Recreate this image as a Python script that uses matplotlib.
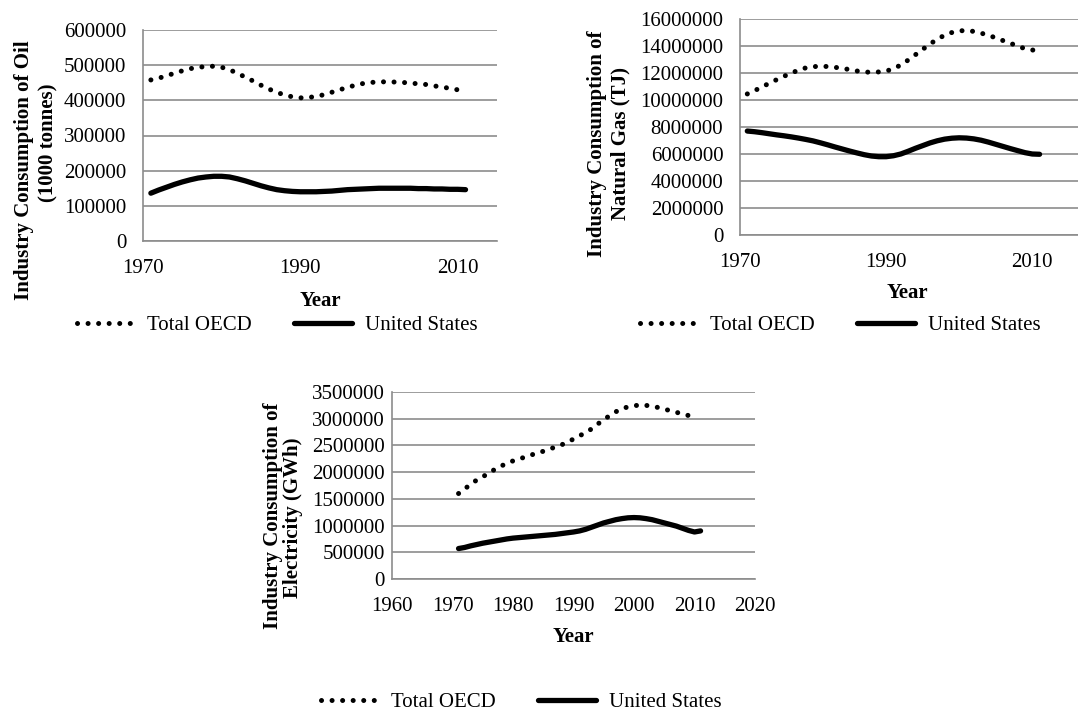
import numpy as np
import matplotlib.pyplot as plt

plt.rcParams['font.family'] = ['Liberation Serif', 'DejaVu Serif']

years = np.arange(1971, 2012)

# oil, 1000 tonnes
oil_oecd = [458, 463, 470, 477, 484, 490, 494, 496, 497, 494,
            487, 477, 466, 455, 443, 432, 423, 415, 410, 407,
            408, 411, 416, 423, 430, 437, 443, 448, 451, 452,
            453, 452, 451, 449, 447, 445, 441, 438, 434, 430, 423]
oil_us = [136, 145, 153, 161, 168, 174, 179, 182, 184, 184,
          182, 177, 171, 164, 157, 151, 146, 143, 141, 140,
          140, 140, 141, 142, 144, 146, 147, 148, 149, 150,
          150, 150, 150, 150, 149, 149, 148, 148, 147, 147, 146]

# natural gas, million TJ
gas_oecd = [10.45, 10.7, 10.95, 11.25, 11.5, 11.75, 12.0, 12.2, 12.38, 12.47,
            12.5, 12.48, 12.42, 12.35, 12.25, 12.15, 12.08, 12.05, 12.08, 12.15,
            12.3, 12.6, 12.95, 13.35, 13.75, 14.15, 14.5, 14.8, 15.0, 15.12,
            15.15, 15.08, 14.95, 14.8, 14.6, 14.4, 14.2, 14.0, 13.8, 13.7, 13.7]
gas_us = [7.7, 7.65, 7.58, 7.5, 7.42, 7.35, 7.27, 7.18, 7.08, 6.97,
          6.83, 6.68, 6.52, 6.37, 6.22, 6.08, 5.95, 5.85, 5.8, 5.8,
          5.87, 6.0, 6.2, 6.42, 6.62, 6.82, 6.98, 7.1, 7.17, 7.2,
          7.18, 7.12, 7.02, 6.88, 6.72, 6.56, 6.4, 6.25, 6.1, 6.0, 5.98]

# electricity, million GWh (OECD series ends 2010)
elec_oecd = [1.6, 1.68, 1.78, 1.85, 1.91, 1.99, 2.05, 2.11, 2.17, 2.21,
             2.25, 2.28, 2.32, 2.36, 2.39, 2.43, 2.47, 2.51, 2.56, 2.62,
             2.68, 2.74, 2.81, 2.9, 2.98, 3.06, 3.13, 3.19, 3.22, 3.24,
             3.26, 3.25, 3.23, 3.21, 3.18, 3.15, 3.12, 3.09, 3.06, 3.04]
elec_us = [0.57, 0.59, 0.62, 0.645, 0.67, 0.69, 0.71, 0.73, 0.75, 0.765,
           0.775, 0.785, 0.795, 0.805, 0.815, 0.825, 0.835, 0.85, 0.865, 0.88,
           0.9, 0.93, 0.97, 1.01, 1.05, 1.08, 1.11, 1.13, 1.145, 1.15,
           1.145, 1.13, 1.11, 1.08, 1.05, 1.02, 0.99, 0.95, 0.91, 0.88, 0.9]

W, H = 1078, 710
fig = plt.figure(figsize=(W / 100, H / 100), dpi=100)

def box(l, r, t, b):
    return [l / W, 1 - b / H, (r - l) / W, (b - t) / H]

grey = '#8c8c8c'
fs = 15

def draw(rect, oecd, us, scale, ylim, ystep, xlim, xticks, ylab, ypad, year_xy, leg_xy):
    ax = fig.add_axes(box(*rect))
    ax.plot(years[:len(oecd)], np.array(oecd) * scale, color='black', lw=3.6,
            linestyle=(0, (0.01, 2.1)), dash_capstyle='round', label='Total OECD')
    ax.plot(years[:len(us)], np.array(us) * scale, color='black', lw=3.8,
            solid_capstyle='round', label='United States')
    ax.set_xlim(*xlim)
    ax.set_ylim(0, ylim)
    ax.set_xticks(xticks)
    ax.set_yticks(np.arange(0, ylim + 1, ystep))
    ax.yaxis.set_major_formatter(plt.FuncFormatter(lambda v, p: '%d' % v))
    ax.grid(axis='y', color=grey, lw=1.2)
    ax.set_axisbelow(True)
    for s in ['top', 'right']:
        ax.spines[s].set_visible(False)
    for s in ['left', 'bottom']:
        ax.spines[s].set_color(grey)
        ax.spines[s].set_linewidth(1.2)
    ax.tick_params(length=0, labelsize=fs)
    ax.tick_params(axis='x', pad=13)
    ax.tick_params(axis='y', pad=ypad)
    # two-line rotated axis title, each line placed on its own
    for text, x, y in ylab:
        fig.text(x / W, 1 - y / H, text, rotation=90, ha='center', va='center',
                 fontsize=fs, fontweight='bold')
    fig.text(year_xy[0] / W, 1 - year_xy[1] / H, 'Year', ha='center', va='center',
             fontsize=fs, fontweight='bold')
    ax.legend(loc='center', bbox_to_anchor=(leg_xy[0] / W, 1 - leg_xy[1] / H),
              bbox_transform=fig.transFigure, ncol=2, frameon=False, fontsize=fs,
              handlelength=2.8, handletextpad=0.6, columnspacing=2.0)
    return ax

draw((143, 497, 30, 241), oil_oecd, oil_us, 1000, 600000, 100000,
     (1970, 2015), [1970, 1990, 2010],
     [('Industry Consumption of Oil', 24, 170), ('(1000 tonnes)', 48, 143)],
     12, (320, 301), (277, 325))

draw((740, 1090, 19, 235), gas_oecd, gas_us, 1e6, 16000000, 2000000,
     (1970, 2017.9), [1970, 1990, 2010],
     [('Industry Consumption of', 597, 144), ('Natural Gas (TJ)', 620, 143)],
     12, (907, 293), (840, 325))

draw((392, 755, 392, 579), elec_oecd, elec_us, 1e6, 3500000, 500000,
     (1960, 2020), np.arange(1960, 2021, 10),
     [('Industry Consumption of', 273, 516), ('Electricity (GWh)', 293, 518)],
     5, (573, 637), (521, 702))

fig.savefig('out.png', dpi=100)
